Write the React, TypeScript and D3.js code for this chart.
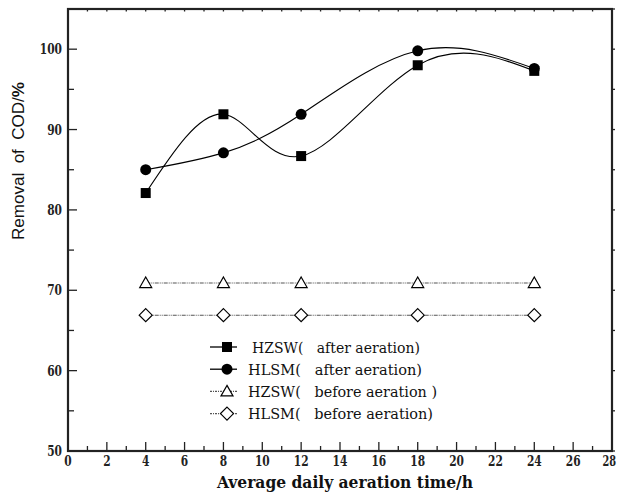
import React from "react";
import * as d3 from "d3";

// aeration times (h)
const hours = [4, 8, 12, 18, 24];
// COD removal (%)
const hzswAfter = [82.1, 91.9, 86.7, 98.0, 97.3];
const hlsmAfter = [85.0, 87.1, 91.9, 99.8, 97.6];
const hzswBefore = [70.9, 70.9, 70.9, 70.9, 70.9];
const hlsmBefore = [66.9, 66.9, 66.9, 66.9, 66.9];

const xTicks = d3.range(0, 29, 2);
const yTicks = [50, 60, 70, 80, 90, 100];

const legendLabels = [
  "HZSW(   after aeration)",
  "HLSM(   after aeration)",
  "HZSW(   before aeration )",
  "HLSM(   before aeration)",
];
const legendWidths = [168, 174, 189, 185];

const W = 620;
const H = 498;
const left = 68, right = 612, top = 9, bottom = 451;

const serif = "'DejaVu Serif Condensed', 'DejaVu Serif', serif";
const sans = "'Liberation Sans', Arial, sans-serif";
const axisColor = "#222";

function Marker({ kind, cx, cy }: { kind: string; cx: number; cy: number }) {
  if (kind === "square")
    return <rect x={cx - 5} y={cy - 5} width={10} height={10} fill="#000" />;
  if (kind === "circle") return <circle cx={cx} cy={cy} r={5.5} fill="#000" />;
  if (kind === "triangle")
    return (
      <path
        d={`M${cx},${cy - 6}L${cx + 6},${cy + 4.5}L${cx - 6},${cy + 4.5}Z`}
        fill="#fff"
        stroke="#000"
        strokeWidth={1.2}
      />
    );
  return (
    <path
      d={`M${cx},${cy - 6.5}L${cx + 6.5},${cy}L${cx},${cy + 6.5}L${cx - 6.5},${cy}Z`}
      fill="#fff"
      stroke="#000"
      strokeWidth={1.2}
    />
  );
}

export default function App() {
  const x = d3.scaleLinear().domain([0, 28]).range([left, right]);
  const y = d3.scaleLinear().domain([50, 105]).range([bottom, top]);

  const series = [
    { values: hzswAfter, kind: "square", dashed: false },
    { values: hlsmAfter, kind: "circle", dashed: false },
    { values: hzswBefore, kind: "triangle", dashed: true },
    { values: hlsmBefore, kind: "diamond", dashed: true },
  ];

  const smooth = d3
    .line<[number, number]>()
    .x((d) => x(d[0]))
    .y((d) => y(d[1]))
    .curve(d3.curveNatural);
  const straight = d3
    .line<[number, number]>()
    .x((d) => x(d[0]))
    .y((d) => y(d[1]));

  const minorX = d3.range(0, 29, 1);
  const minorY = d3.range(50, 106, 5);

  return (
    <svg width={W} height={H} style={{ position: "absolute", left: 0, top: 0 }}>
      <rect width={W} height={H} fill="#fff" />

      {/* series */}
      {series.map((s, i) => {
        const pts = hours.map((h, j) => [h, s.values[j]] as [number, number]);
        return (
          <g key={i}>
            <path
              d={(s.dashed ? straight : smooth)(pts) || ""}
              fill="none"
              stroke={s.dashed ? "#555" : "#000"}
              strokeWidth={1.1}
              strokeDasharray={s.dashed ? "4,1,1,1,1,1" : undefined}
            />
            {pts.map((p, j) => (
              <Marker key={j} kind={s.kind} cx={x(p[0])} cy={y(p[1])} />
            ))}
          </g>
        );
      })}

      {/* legend */}
      <g fontFamily={serif}>
        {legendLabels.map((lab, i) => {
          const ly = 347 + i * 22.2;
          const s = series[i];
          return (
            <g key={lab}>
              <line
                x1={210}
                x2={237}
                y1={ly}
                y2={ly}
                stroke={s.dashed ? "#555" : "#000"}
                strokeWidth={s.dashed ? 1.1 : 1.3}
                strokeDasharray={s.dashed ? "2,1,1,1" : undefined}
              />
              <Marker kind={s.kind} cx={227} cy={ly} />
              <text
                x={i === 0 ? 252 : 248}
                y={ly + 5.5}
                fontSize={15.5}
                fill="#111"
                textLength={legendWidths[i]}
                lengthAdjust="spacingAndGlyphs"
                style={{ whiteSpace: "pre" }}
              >
                {lab}
              </text>
            </g>
          );
        })}
      </g>

      {/* frame */}
      <rect
        x={left}
        y={top}
        width={right - left}
        height={bottom - top}
        fill="none"
        stroke={axisColor}
        strokeWidth={2.2}
      />

      {/* x ticks */}
      {minorX.map((t) => {
        const major = t % 2 === 0;
        return (
          <g key={"x" + t}>
            <line
              x1={x(t)}
              x2={x(t)}
              y1={bottom}
              y2={bottom - (major ? 9 : 5)}
              stroke={axisColor}
              strokeWidth={1.3}
            />
            <line
              x1={x(t)}
              x2={x(t)}
              y1={top}
              y2={top + 2.5}
              stroke={axisColor}
              strokeWidth={1.3}
            />
          </g>
        );
      })}
      <g fontFamily={serif} fontWeight="bold" fontSize={14} fill={axisColor}>
        {xTicks.map((t, i) => {
          const last = i === xTicks.length - 1;
          return (
            <text
              key={"xl" + t}
              x={last ? W - 4 : x(t)}
              y={466}
              textAnchor={last ? "end" : "middle"}
              textLength={String(t).length * (last ? 6.8 : 7.4)}
              lengthAdjust="spacingAndGlyphs"
            >
              {t}
            </text>
          );
        })}
      </g>

      {/* y ticks */}
      {minorY.map((t) => {
        const major = t % 10 === 0;
        return (
          <g key={"y" + t}>
            <line
              x1={left}
              x2={left + (major ? 9 : 6)}
              y1={y(t)}
              y2={y(t)}
              stroke={axisColor}
              strokeWidth={1.3}
            />
            <line
              x1={right}
              x2={right + 3}
              y1={y(t)}
              y2={y(t)}
              stroke={axisColor}
              strokeWidth={1.3}
            />
          </g>
        );
      })}
      <g fontFamily={serif} fontWeight="bold" fontSize={14} fill={axisColor}>
        {yTicks.map((t) => (
          <text
            key={"yl" + t}
            x={62}
            y={y(t) + 5}
            textAnchor="end"
            textLength={String(t).length * 7.4}
            lengthAdjust="spacingAndGlyphs"
          >
            {t}
          </text>
        ))}
      </g>

      {/* axis titles */}
      <text
        x={345}
        y={488}
        textAnchor="middle"
        fontWeight="bold"
        fontSize={17}
        fill="#111"
        fontFamily={serif}
        textLength={256}
        lengthAdjust="spacingAndGlyphs"
      >
        Average daily aeration time/h
      </text>
      <text
        transform="translate(24,161) rotate(-90)"
        textAnchor="middle"
        fontSize={16}
        fill="#111"
        fontFamily={sans}
        textLength={158}
        lengthAdjust="spacingAndGlyphs"
        style={{ whiteSpace: "pre" }}
      >
        Removal  of  COD/<tspan fontWeight="bold">%</tspan>
      </text>
    </svg>
  );
}
